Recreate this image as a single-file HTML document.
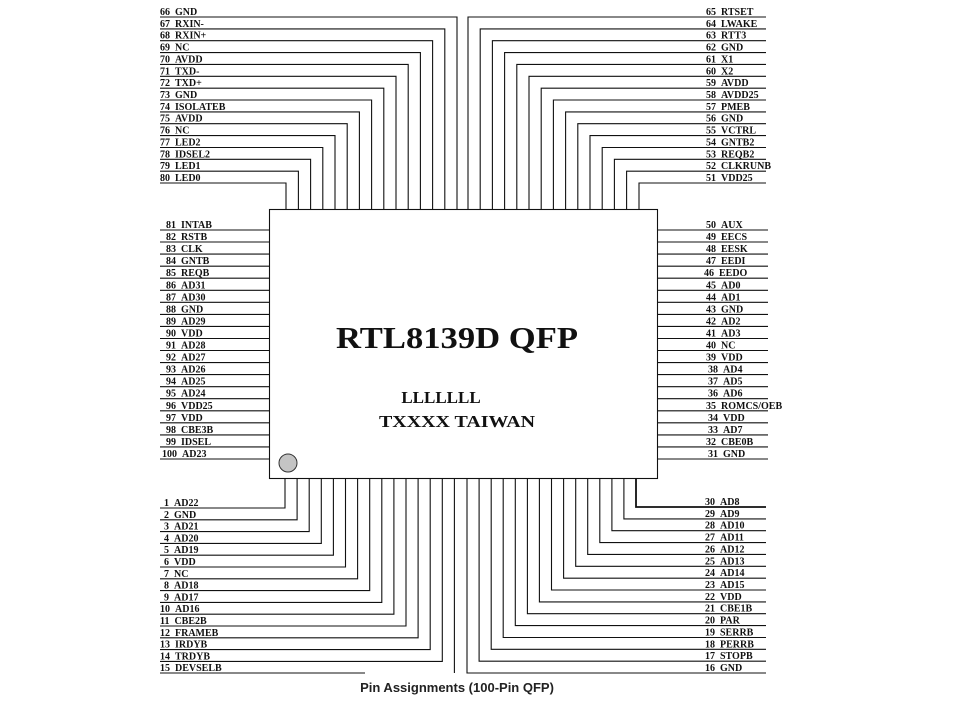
<!DOCTYPE html>
<html><head><meta charset="utf-8"><style>
html,body{margin:0;padding:0;background:#fff;}
svg{display:block;}
.p{font-family:"Liberation Serif",serif;font-weight:bold;font-size:10px;fill:#111;}
</style></head><body>
<svg width="957" height="703" viewBox="0 0 957 703" xmlns="http://www.w3.org/2000/svg">
<g stroke="#111" stroke-width="1.1" fill="none">
<rect x="269.5" y="209.5" width="388" height="269" fill="#fff"/>
<path d="M160 17H457V209"/><path d="M160 28.9H444.8V209"/><path d="M160 40.7H432.6V209"/><path d="M160 52.6H420.4V209"/><path d="M160 64.4H408.2V209"/><path d="M160 76.3H396V209"/><path d="M160 88.2H383.8V209"/><path d="M160 100H371.6V209"/><path d="M160 111.9H359.4V209"/><path d="M160 123.7H347.2V209"/><path d="M160 135.6H335V209"/><path d="M160 147.5H322.8V209"/><path d="M160 159.3H310.6V209"/><path d="M160 171.2H298.4V209"/><path d="M160 183H286V209"/>
<path d="M766 17H468V209"/><path d="M766 28.9H480.2V209"/><path d="M766 40.7H492.4V209"/><path d="M766 52.6H504.6V209"/><path d="M766 64.4H516.8V209"/><path d="M766 76.3H529V209"/><path d="M766 88.2H541.2V209"/><path d="M766 100H553.4V209"/><path d="M766 111.9H565.6V209"/><path d="M766 123.7H577.8V209"/><path d="M766 135.6H590V209"/><path d="M766 147.5H602.2V209"/><path d="M766 159.3H614.4V209"/><path d="M766 171.2H626.6V209"/><path d="M766 183H639V209"/>
<path d="M160 230H269M160 242H269M160 254.1H269M160 266.2H269M160 278.2H269M160 290.3H269M160 302.3H269M160 314.4H269M160 326.4H269M160 338.5H269M160 350.5H269M160 362.6H269M160 374.6H269M160 386.7H269M160 398.7H269M160 410.8H269M160 422.8H269M160 434.9H269M160 446.9H269M160 459H269"/>
<path d="M658 230H768M658 242H768M658 254.1H768M658 266.2H768M658 278.2H768M658 290.3H768M658 302.3H768M658 314.4H768M658 326.4H768M658 338.5H768M658 350.5H768M658 362.6H768M658 374.6H768M658 386.7H768M658 398.7H768M658 410.8H768M658 422.8H768M658 434.9H768M658 446.9H768M658 459H768"/>
<path d="M160 508H285V479"/><path d="M160 519.8H297.1V479"/><path d="M160 531.6H309.2V479"/><path d="M160 543.4H321.3V479"/><path d="M160 555.2H333.4V479"/><path d="M160 567H345.5V479"/><path d="M160 578.8H357.6V479"/><path d="M160 590.6H369.7V479"/><path d="M160 602.4H381.8V479"/><path d="M160 614.2H393.9V479"/><path d="M160 626H406V479"/><path d="M160 637.8H418.1V479"/><path d="M160 649.6H430.2V479"/><path d="M160 661.4H442.3V479"/><path d="M160 673H365"/><path d="M454.4 479V673"/>
<path d="M766 507H636V479" stroke-width="1.8"/><path d="M766 518.9H623.9V479"/><path d="M766 530.7H611.9V479"/><path d="M766 542.6H599.8V479"/><path d="M766 554.4H587.7V479"/><path d="M766 566.3H575.7V479"/><path d="M766 578.2H563.6V479"/><path d="M766 590H551.5V479"/><path d="M766 601.9H539.4V479"/><path d="M766 613.7H527.4V479"/><path d="M766 625.6H515.3V479"/><path d="M766 637.5H503.2V479"/><path d="M766 649.3H491.2V479"/><path d="M766 661.2H479.1V479"/><path d="M766 673H467V479"/>
</g>
<circle cx="288" cy="463" r="9" fill="#c4c4c4" stroke="#333" stroke-width="1"/>
<g class="p">
<text x="160" y="15">66&#160;&#160;GND</text><text x="160" y="26.9">67&#160;&#160;RXIN-</text><text x="160" y="38.7">68&#160;&#160;RXIN+</text><text x="160" y="50.6">69&#160;&#160;NC</text><text x="160" y="62.4">70&#160;&#160;AVDD</text><text x="160" y="74.3">71&#160;&#160;TXD-</text><text x="160" y="86.2">72&#160;&#160;TXD+</text><text x="160" y="98">73&#160;&#160;GND</text><text x="160" y="109.9">74&#160;&#160;ISOLATEB</text><text x="160" y="121.7">75&#160;&#160;AVDD</text><text x="160" y="133.6">76&#160;&#160;NC</text><text x="160" y="145.5">77&#160;&#160;LED2</text><text x="160" y="157.3">78&#160;&#160;IDSEL2</text><text x="160" y="169.2">79&#160;&#160;LED1</text><text x="160" y="181">80&#160;&#160;LED0</text>
<text x="706" y="15">65&#160;&#160;RTSET</text><text x="706" y="26.9">64&#160;&#160;LWAKE</text><text x="706" y="38.7">63&#160;&#160;RTT3</text><text x="706" y="50.6">62&#160;&#160;GND</text><text x="706" y="62.4">61&#160;&#160;X1</text><text x="706" y="74.3">60&#160;&#160;X2</text><text x="706" y="86.2">59&#160;&#160;AVDD</text><text x="706" y="98">58&#160;&#160;AVDD25</text><text x="706" y="109.9">57&#160;&#160;PMEB</text><text x="706" y="121.7">56&#160;&#160;GND</text><text x="706" y="133.6">55&#160;&#160;VCTRL</text><text x="706" y="145.5">54&#160;&#160;GNTB2</text><text x="706" y="157.3">53&#160;&#160;REQB2</text><text x="706" y="169.2">52&#160;&#160;CLKRUNB</text><text x="706" y="181">51&#160;&#160;VDD25</text>
<text x="166" y="228">81&#160;&#160;INTAB</text><text x="166" y="240">82&#160;&#160;RSTB</text><text x="166" y="252.1">83&#160;&#160;CLK</text><text x="166" y="264.2">84&#160;&#160;GNTB</text><text x="166" y="276.2">85&#160;&#160;REQB</text><text x="166" y="288.3">86&#160;&#160;AD31</text><text x="166" y="300.3">87&#160;&#160;AD30</text><text x="166" y="312.4">88&#160;&#160;GND</text><text x="166" y="324.4">89&#160;&#160;AD29</text><text x="166" y="336.5">90&#160;&#160;VDD</text><text x="166" y="348.5">91&#160;&#160;AD28</text><text x="166" y="360.6">92&#160;&#160;AD27</text><text x="166" y="372.6">93&#160;&#160;AD26</text><text x="166" y="384.7">94&#160;&#160;AD25</text><text x="166" y="396.7">95&#160;&#160;AD24</text><text x="166" y="408.8">96&#160;&#160;VDD25</text><text x="166" y="420.8">97&#160;&#160;VDD</text><text x="166" y="432.9">98&#160;&#160;CBE3B</text><text x="166" y="444.9">99&#160;&#160;IDSEL</text><text x="162" y="457">100&#160;&#160;AD23</text>
<text x="706" y="228">50&#160;&#160;AUX</text><text x="706" y="240">49&#160;&#160;EECS</text><text x="706" y="252.1">48&#160;&#160;EESK</text><text x="706" y="264.2">47&#160;&#160;EEDI</text><text x="704" y="276.2">46&#160;&#160;EEDO</text><text x="706" y="288.3">45&#160;&#160;AD0</text><text x="706" y="300.3">44&#160;&#160;AD1</text><text x="706" y="312.4">43&#160;&#160;GND</text><text x="706" y="324.4">42&#160;&#160;AD2</text><text x="706" y="336.5">41&#160;&#160;AD3</text><text x="706" y="348.5">40&#160;&#160;NC</text><text x="706" y="360.6">39&#160;&#160;VDD</text><text x="708" y="372.6">38&#160;&#160;AD4</text><text x="708" y="384.7">37&#160;&#160;AD5</text><text x="708" y="396.7">36&#160;&#160;AD6</text><text x="706" y="408.8">35&#160;&#160;ROMCS/OEB</text><text x="708" y="420.8">34&#160;&#160;VDD</text><text x="708" y="432.9">33&#160;&#160;AD7</text><text x="706" y="444.9">32&#160;&#160;CBE0B</text><text x="708" y="457">31&#160;&#160;GND</text>
<text x="164" y="506">1&#160;&#160;AD22</text><text x="164" y="517.8">2&#160;&#160;GND</text><text x="164" y="529.6">3&#160;&#160;AD21</text><text x="164" y="541.4">4&#160;&#160;AD20</text><text x="164" y="553.2">5&#160;&#160;AD19</text><text x="164" y="565">6&#160;&#160;VDD</text><text x="164" y="576.8">7&#160;&#160;NC</text><text x="164" y="588.6">8&#160;&#160;AD18</text><text x="164" y="600.4">9&#160;&#160;AD17</text><text x="160" y="612.2">10&#160;&#160;AD16</text><text x="160" y="624">11&#160;&#160;CBE2B</text><text x="160" y="635.8">12&#160;&#160;FRAMEB</text><text x="160" y="647.6">13&#160;&#160;IRDYB</text><text x="160" y="659.4">14&#160;&#160;TRDYB</text><text x="160" y="671">15&#160;&#160;DEVSELB</text>
<text x="705" y="505">30&#160;&#160;AD8</text><text x="705" y="516.9">29&#160;&#160;AD9</text><text x="705" y="528.7">28&#160;&#160;AD10</text><text x="705" y="540.6">27&#160;&#160;AD11</text><text x="705" y="552.4">26&#160;&#160;AD12</text><text x="705" y="564.3">25&#160;&#160;AD13</text><text x="705" y="576.2">24&#160;&#160;AD14</text><text x="705" y="588">23&#160;&#160;AD15</text><text x="705" y="599.9">22&#160;&#160;VDD</text><text x="705" y="611.7">21&#160;&#160;CBE1B</text><text x="705" y="623.6">20&#160;&#160;PAR</text><text x="705" y="635.5">19&#160;&#160;SERRB</text><text x="705" y="647.3">18&#160;&#160;PERRB</text><text x="705" y="659.2">17&#160;&#160;STOPB</text><text x="705" y="671">16&#160;&#160;GND</text>
</g>
<text x="457" y="348" text-anchor="middle" font-family="Liberation Serif,serif" font-weight="bold" font-size="31" textLength="242" lengthAdjust="spacingAndGlyphs" fill="#111">RTL8139D QFP</text>
<text x="441" y="403" text-anchor="middle" font-family="Liberation Serif,serif" font-weight="bold" font-size="17" fill="#111">LLLLLLL</text>
<text x="457" y="427" text-anchor="middle" font-family="Liberation Serif,serif" font-weight="bold" font-size="17" textLength="156" lengthAdjust="spacingAndGlyphs" fill="#111">TXXXX TAIWAN</text>
<text x="457" y="692" text-anchor="middle" font-family="Liberation Sans,sans-serif" font-weight="bold" font-size="13" fill="#222">Pin Assignments (100-Pin QFP)</text>
</svg>
</body></html>
